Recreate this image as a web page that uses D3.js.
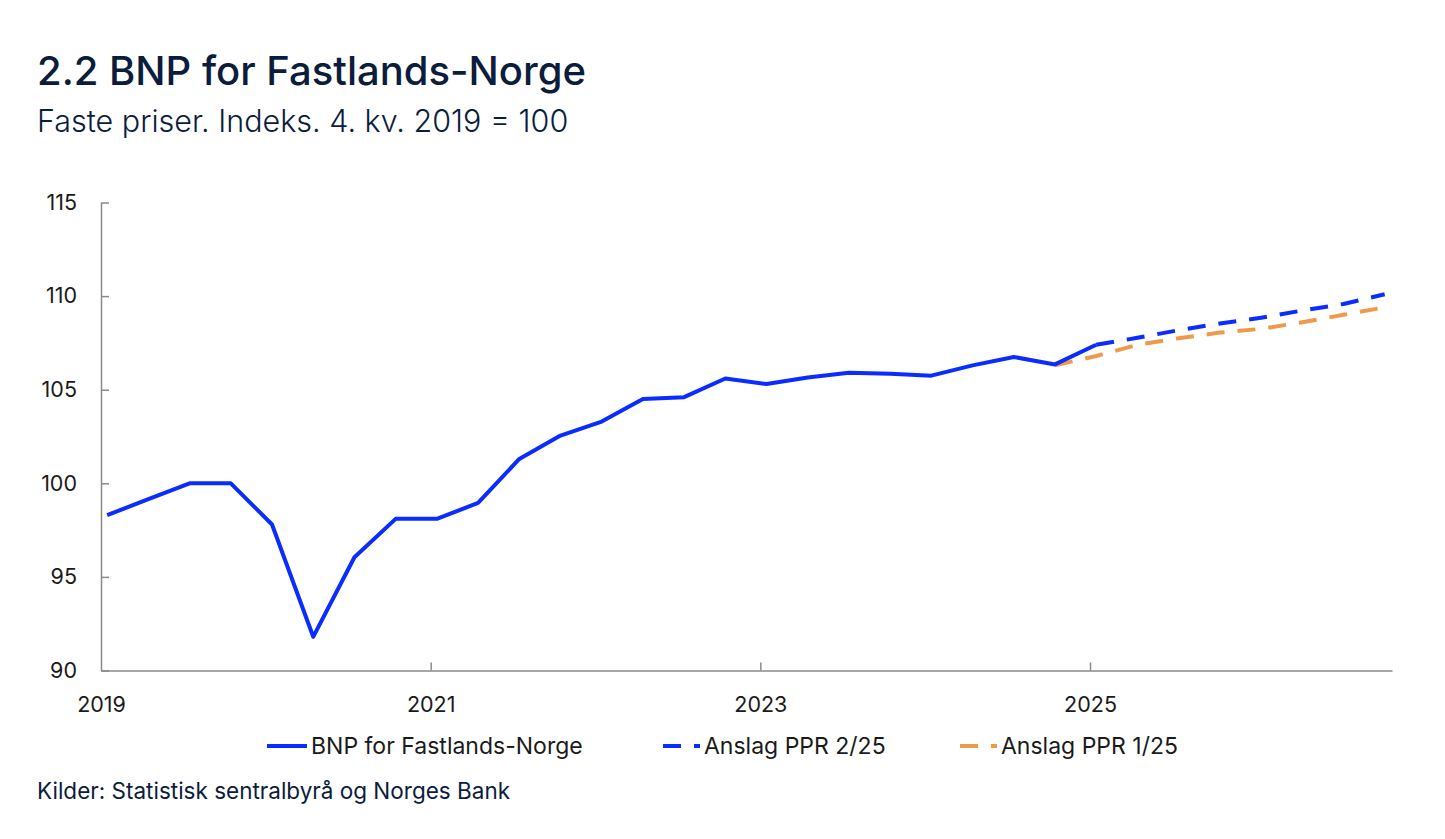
<!DOCTYPE html>
<html>
<head>
<meta charset="utf-8">
<script src="https://cdn.jsdelivr.net/npm/d3@7"></script>
<style>
  html, body { margin: 0; padding: 0; background: #fff; }
  svg { display: block; font-family: Inter, "Noto Sans", sans-serif; }
</style>
</head>
<body>
<div id="chart"></div>
<script>
// Quarterly index, 4. kv. 2019 = 100
const actualQuarters = ['2019K1','2019K2','2019K3','2019K4','2020K1','2020K2','2020K3','2020K4',
  '2021K1','2021K2','2021K3','2021K4','2022K1','2022K2','2022K3','2022K4',
  '2023K1','2023K2','2023K3','2023K4','2024K1','2024K2','2024K3','2024K4','2025K1'];
const actualValues = [98.3, 99.15, 100.0, 100.0, 97.8, 91.8, 96.05, 98.1,
  98.1, 98.95, 101.3, 102.55, 103.3, 104.5, 104.6, 105.6,
  105.3, 105.65, 105.9, 105.85, 105.75, 106.3, 106.75, 106.35, 107.4];

const ppr2Quarters = ['2025K1','2025K2','2025K3','2025K4','2026K1','2026K2','2026K3','2026K4'];
const ppr2Values = [107.4, 107.77, 108.18, 108.54, 108.84, 109.23, 109.58, 110.1];

const ppr1Quarters = ['2024K4','2025K1','2025K2','2025K3','2025K4','2026K1','2026K2','2026K3','2026K4'];
const ppr1Values = [106.3, 106.8, 107.4, 107.75, 108.05, 108.25, 108.6, 109.0, 109.4];

const yTicks = [90, 95, 100, 105, 110, 115];
const xTicks = [2019, 2021, 2023, 2025];

const seriesNames = ['BNP for Fastlands-Norge', 'Anslag PPR 2/25', 'Anslag PPR 1/25'];

const W = 1445, H = 839;
const BLUE = '#0a2cff', ORANGE = '#ef9a4b', NAVY = '#0b1c3c';

// points sit half a month into the quarter
const qToYear = q => +q.slice(0, 4) + (+q.slice(5) - 1) / 4 + 0.0375;
const zip = (qs, vs) => qs.map((q, i) => ({ t: qToYear(q), v: vs[i] }));

const svg = d3.select('#chart').append('svg')
  .attr('width', W).attr('height', H);

const x = d3.scaleLinear().domain([2019, 2026.832]).range([101, 1392]);
const y = d3.scaleLinear().domain([90, 115]).range([670.5, 202.5]);

// title block
svg.append('text').attr('x', 37).attr('y', 85)
  .attr('font-size', 40).attr('font-weight', 500).attr('fill', NAVY)
  .text('2.2 BNP for Fastlands-Norge');
svg.append('text').attr('x', 37).attr('y', 132)
  .attr('font-size', 30.5).attr('font-weight', 300).attr('fill', NAVY)
  .text('Faste priser. Indeks. 4. kv. 2019 = 100');

// axes
const yAxis = svg.append('g').attr('transform', `translate(${x.range()[0]},0)`)
  .call(d3.axisLeft(y).tickValues(yTicks).tickSize(-8).tickPadding(24).tickSizeOuter(0));
const xAxis = svg.append('g').attr('transform', `translate(0,${y.range()[0]})`)
  .call(d3.axisBottom(x).tickValues(xTicks).tickFormat(d3.format('d')).tickSize(-8).tickPadding(26).tickSizeOuter(0));

[yAxis, xAxis].forEach(g => {
  g.select('.domain').attr('stroke', '#8a8a8a').attr('stroke-width', 1.5);
  g.selectAll('.tick line').attr('stroke', '#8a8a8a').attr('stroke-width', 1.5);
  g.selectAll('.tick text').attr('font-size', 21.5).attr('fill', '#1a1a1a')
    .attr('font-family', 'Inter, "Noto Sans", sans-serif');
});
xAxis.select('.tick line').remove(); // 2019 sits on the y axis

// lines
const line = d3.line().x(d => x(d.t)).y(d => y(d.v));
const series = [
  { data: zip(ppr1Quarters, ppr1Values), color: ORANGE, dash: '18,13' },
  { data: zip(ppr2Quarters, ppr2Values), color: BLUE, dash: '18,13' },
  { data: zip(actualQuarters, actualValues), color: BLUE, dash: null }
];
svg.append('g').selectAll('path').data(series).join('path')
  .attr('d', d => line(d.data))
  .attr('fill', 'none')
  .attr('stroke', d => d.color)
  .attr('stroke-width', 4)
  .attr('stroke-linejoin', 'round')
  .attr('stroke-dasharray', d => d.dash);

// legend
const legend = [
  { name: seriesNames[0], color: BLUE, dash: null, x: 267, w: 40 },
  { name: seriesNames[1], color: BLUE, dash: '18,13', x: 663, w: 37 },
  { name: seriesNames[2], color: ORANGE, dash: '18,13', x: 960, w: 37 }
];
const lg = svg.append('g').selectAll('g').data(legend).join('g')
  .attr('transform', d => `translate(${d.x},746)`);
lg.append('line').attr('x1', 0).attr('x2', d => d.w)
  .attr('stroke', d => d.color).attr('stroke-width', 4)
  .attr('stroke-dasharray', d => d.dash);
lg.append('text').attr('x', d => d.w + 4).attr('dy', '0.35em')
  .attr('font-size', 23).attr('fill', '#1a1a1a')
  .text(d => d.name);

// source
svg.append('text').attr('x', 37).attr('y', 799)
  .attr('font-size', 22.5).attr('fill', NAVY)
  .text('Kilder: Statistisk sentralbyrå og Norges Bank');
</script>
</body>
</html>
